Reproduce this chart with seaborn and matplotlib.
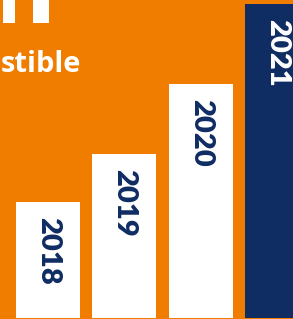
import matplotlib
matplotlib.use("Agg")
import matplotlib.pyplot as plt
import seaborn as sns
import pandas as pd
from matplotlib.patches import Rectangle

years = ["2018", "2019", "2020", "2021"]
values = [115.5, 163.5, 233.5, 313.5]
bar_colors = ["#FFFFFF", "#FFFFFF", "#FFFFFF", "#0F2C63"]
label_colors = ["#0F2C63", "#0F2C63", "#0F2C63", "#FFFFFF"]
title_text = "stible"

ORANGE = "#F07C00"
W, H = 293, 319
DPI = 100

sns.set_theme(style="white")
plt.rcParams["font.family"] = ["Lato", "DejaVu Sans"]

fig = plt.figure(figsize=(W / DPI, H / DPI), dpi=DPI, facecolor=ORANGE)
ax = fig.add_axes([0, 0, 1, 1])
ax.set_facecolor(ORANGE)

df = pd.DataFrame({"year": years, "value": values})
sns.barplot(data=df, x="year", y="value", hue="year", palette=bar_colors,
            width=0.838, legend=False, ax=ax, saturation=1, linewidth=0)

step = 76.33
ax.set_xlim(-48 / step, (W - 48) / step)
ax.set_ylim(-1.5, H - 1.5)
ax.set_axis_off()

for i, (yr, v) in enumerate(zip(years, values)):
    ax.text(i, v - 15, yr, rotation=-90, ha="center", va="top",
            color=label_colors[i], fontsize=21, fontweight="heavy",
            family=["Lato", "DejaVu Sans"])

# partial quote marks at top-left
for x0, x1 in [(3, 15), (33, 49)]:
    fig.patches.append(Rectangle((x0 / W, 1 - 23 / H), (x1 - x0) / W, 23 / H,
                                 transform=fig.transFigure, color="white",
                                 linewidth=0))

fig.text(1 / W, 1 - 72 / H, title_text, ha="left", va="baseline",
         color="white", fontsize=21, fontweight="bold",
         family=["Open Sans", "DejaVu Sans"])

fig.savefig("out.png", dpi=DPI, facecolor=ORANGE)
